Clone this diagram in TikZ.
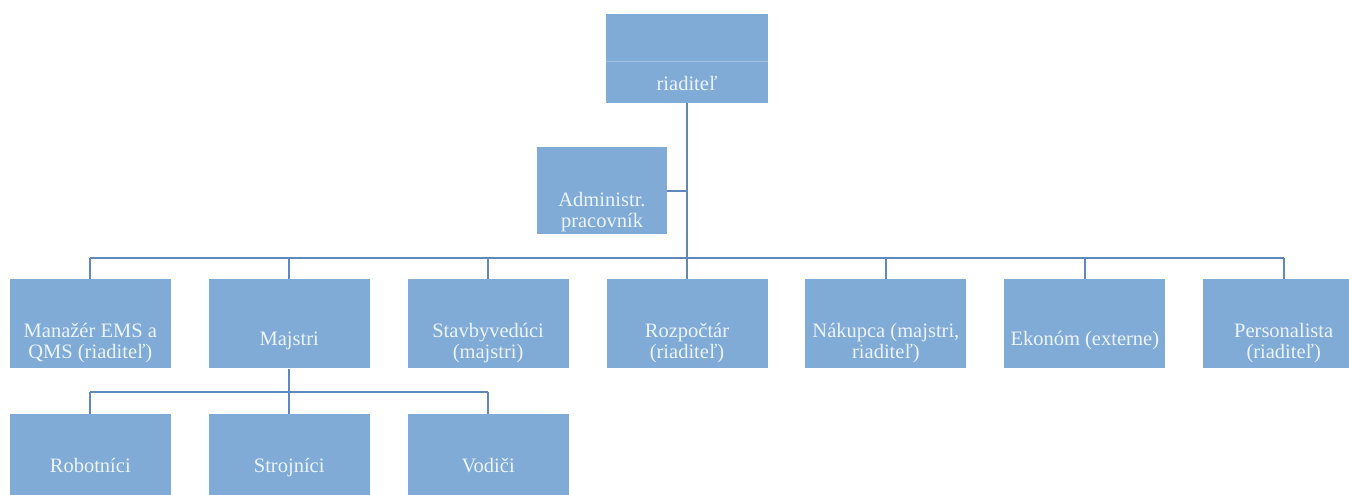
\documentclass[tikz,border=0pt]{standalone}
\usepackage{fontspec}
\setmainfont{Liberation Serif}
\usetikzlibrary{positioning}
\definecolor{boxblue}{RGB}{127,171,214}
\definecolor{lineblue}{RGB}{96,136,188}
\definecolor{boxtext}{RGB}{236,243,250}

\begin{document}
\begin{tikzpicture}[
			x=1pt, y=-1pt,
			node distance=37.5pt,
			box/.style = {fill=boxblue, text=boxtext, minimum width=161pt, inner xsep=2pt, inner ysep=0pt, align=center, font=\rmfamily\fontsize{20.5}{21}\selectfont},
			oneline/.style = {box, text height=66pt, text depth=23pt},
			twolines/.style = {box, text height=79pt, text depth=10pt},
			conn/.style = {draw=lineblue, line width=2pt}
		]
		\useasboundingbox (0,0) rectangle (1349,495);
		\node[box, minimum width=162pt, text height=76pt, text depth=13pt] (root) at (687,58.5) {riaditeľ};
		\draw[white!25!boxblue, line width=1pt] ([yshift=-3.5pt]root.west) -- ([yshift=-3.5pt]root.east);
		\node[box, minimum width=130pt, text height=80pt, text depth=7pt] (adm) at (602,190.5) {Administr.\\pracovník};
		% Level 1.
		\node[twolines, below=176pt of root] (roz) {Rozpočtár\\(riaditeľ)};
		\node[twolines, left=of roz] (stav) {Stavbyvedúci\\(majstri)};
		\node[oneline, left=of stav] (maj) {Majstri};
		\node[twolines, left=of maj] (man) {Manažér EMS a\\QMS (riaditeľ)};
		\node[twolines, right=of roz] (nak) {Nákupca (majstri,\\riaditeľ)};
		\node[oneline, right=of nak] (eko) {Ekonóm (externe)};
		\node[twolines, right=of eko] (pers) {Personalista\\(riaditeľ)};
		% Level 2.
		\node[box, text height=59pt, text depth=30pt, below=45pt of man] (rob) {Robotníci};
		\node[box, text height=59pt, text depth=30pt, below=45pt of maj] (stroj) {Strojníci};
		\node[box, text height=59pt, text depth=30pt, below=45pt of stav] (vod) {Vodiči};

		\coordinate (bus1) at ([yshift=21pt]roz.north);
		\coordinate (bus2) at ([yshift=-23pt]maj.south);
		\draw[conn] (root) -- (bus1);
		\draw[conn] (adm.east) -- (adm.east -| root.south);
		\draw[conn] (bus1 -| man) -- (bus1 -| pers);
		\foreach \n in {man, maj, stav, roz, nak, eko, pers}
			\draw[conn] (bus1 -| \n) -- (\n.north);
		\draw[conn] (maj) -- (bus2);
		\draw[conn] (bus2 -| rob) -- (bus2 -| vod);
		\foreach \n in {rob, stroj, vod}
			\draw[conn] (bus2 -| \n) -- (\n.north);
	\end{tikzpicture}
\end{document}
